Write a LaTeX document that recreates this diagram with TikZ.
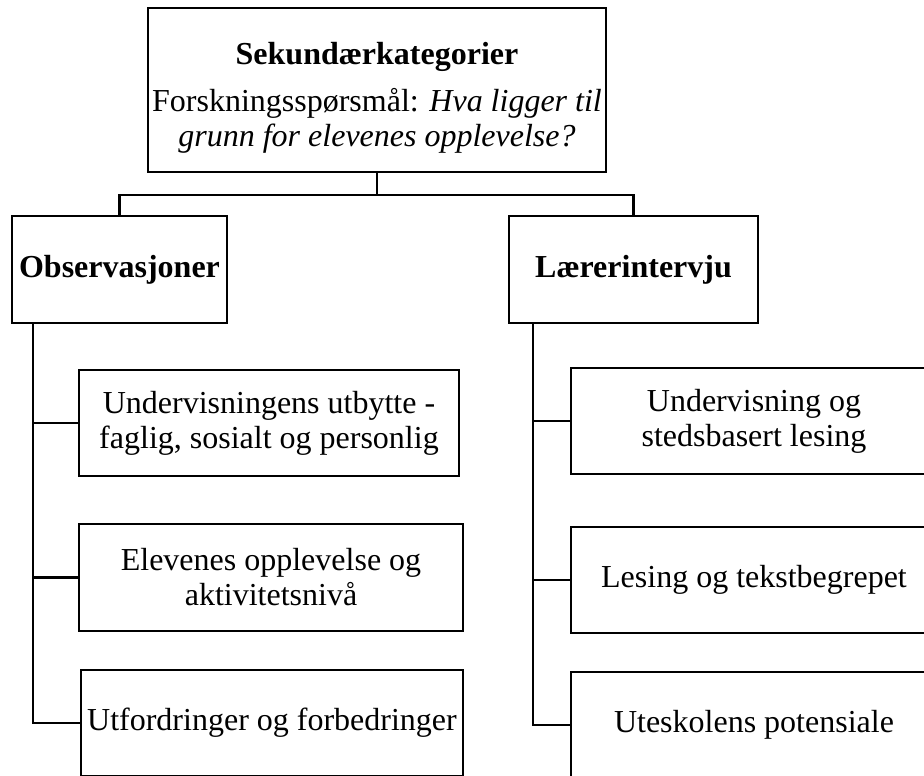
\documentclass[tikz,border=0pt]{standalone}
\usepackage{fontspec}
\setmainfont{Liberation Serif}
\usetikzlibrary{calc}
\begin{document}
\begin{tikzpicture}[x=1pt,y=-1pt,
  box/.style={draw, line width=2.2pt, inner sep=0pt, align=center,
    font=\fontsize{32}{35}\selectfont},
  conn/.style={line width=2.2pt}]
\useasboundingbox (0,0) rectangle (924,776);
\clip (0,0) rectangle (924,776);
% top
\node[box, minimum width=458pt, minimum height=164pt] (top) at (377,90)
  {\rule{0pt}{38pt}\textbf{Sekundærkategorier}\\[12pt]Forskningsspørsmål: \textit{Hva ligger til}\\\textit{grunn for elevenes opplevelse?}};
% level 2
\node[box, minimum width=215pt, minimum height=107pt] (obs) at (119.5,269.5) {\textbf{Observasjoner}};
\node[box, minimum width=249pt, minimum height=107pt] (lar) at (633.5,269.5) {\textbf{Lærerintervju}};
% left children
\node[box, minimum width=380pt, minimum height=106pt] (o1) at (269,423) {Undervisningens utbytte -\\faglig, sosialt og personlig};
\node[box, minimum width=384pt, minimum height=107pt] (o2) at (271,577.5) {Elevenes opplevelse og\\aktivitetsnivå};
\node[box, minimum width=382pt, minimum height=106pt] (o3) at (272,723) {Utfordringer og forbedringer};
% right children
\node[box, minimum width=366pt, minimum height=106pt] (r1) at (754,421) {Undervisning og\\stedsbasert lesing};
\node[box, minimum width=366pt, minimum height=106pt] (r2) at (754,580) {Lesing og tekstbegrepet};
\node[box, minimum width=366pt, minimum height=106pt] (r3) at (754,725) {Uteskolens potensiale};
% connectors
\draw[conn] (top.south) -- ++(0,22) -| (obs.north);
\draw[conn] (top.south) -- ++(0,22) -| (lar.north);
\coordinate (ls) at ($(obs.south west)+(22,0)$);
\coordinate (rs) at ($(lar.south west)+(25,0)$);
\draw[conn] (ls) |- (o3.west);
\draw[conn] (ls |- o1.west) -- (o1.west);
\draw[conn] (ls |- o2.west) -- (o2.west);
\draw[conn] (rs) |- (r3.west);
\draw[conn] (rs |- r1.west) -- (r1.west);
\draw[conn] (rs |- r2.west) -- (r2.west);
\end{tikzpicture}
\end{document}
